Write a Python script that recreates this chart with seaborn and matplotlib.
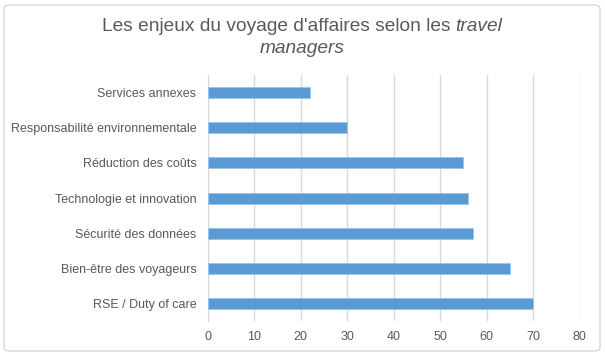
import matplotlib
matplotlib.use('Agg')
import matplotlib.pyplot as plt
from matplotlib.patches import FancyBboxPatch
import seaborn as sns
import pandas as pd

# data
categories = ['Services annexes', 'Responsabilité environnementale', 'Réduction des coûts',
              'Technologie et innovation', 'Sécurité des données', 'Bien-être des voyageurs',
              'RSE / Duty of care']
scores = [22, 30, 55, 56, 57, 65, 70]
x_ticks = [0, 10, 20, 30, 40, 50, 60, 70, 80]

df = pd.DataFrame({'enjeu': categories, 'score': scores})

sns.set_style('white')
plt.rcParams['font.family'] = ['Liberation Sans', 'DejaVu Sans']
text_grey = '#595959'

fig = plt.figure(figsize=(6.05, 3.55), dpi=100)
ax = fig.add_axes([0.343, 0.095, 0.615, 0.694])

sns.barplot(data=df, x='score', y='enjeu', orient='h', color='#5B9BD5',
            width=0.31, saturation=1, edgecolor='#9DC3E6', linewidth=0.6, ax=ax, zorder=3)

ax.set_xlim(0, 80)
ax.set_xticks(x_ticks)
ax.set_xlabel('')
ax.set_ylabel('')
ax.grid(axis='x', color='#D9D9D9', linewidth=1, zorder=0)
for s in ['top', 'right', 'bottom']:
    ax.spines[s].set_visible(False)
ax.spines['left'].set_color('#D9D9D9')
ax.tick_params(axis='x', length=0, pad=7, labelsize=9, labelcolor=text_grey)
ax.tick_params(axis='y', length=0, pad=8, labelsize=9, labelcolor=text_grey)

# title with italic ending, centred over the figure
t1 = fig.text(0, 1 - 31 / 355, "Les enjeux du voyage d'affaires selon les ", fontsize=13.8,
              color=text_grey, ha='left', va='baseline')
t2 = fig.text(0, 1 - 31 / 355, 'travel', fontsize=13.8, style='italic',
              color=text_grey, ha='left', va='baseline')
fig.text(302 / 605, 1 - 53 / 355, 'managers', fontsize=13.8, style='italic',
         color=text_grey, ha='center', va='baseline')
fig.canvas.draw()
r = fig.canvas.get_renderer()
w1 = t1.get_window_extent(r).width
w2 = t2.get_window_extent(r).width
x0 = 302 - (w1 + w2) / 2
t1.set_x(x0 / 605)
t2.set_x((x0 + w1) / 605)

# light frame around the chart
frame = FancyBboxPatch((4 / 605, 4 / 355), 596 / 605, 346 / 355,
                       boxstyle='round,pad=0,rounding_size=0.01', transform=fig.transFigure,
                       facecolor='none', edgecolor='#D9D9D9', linewidth=1)
fig.patches.append(frame)

fig.savefig('out.png', dpi=100)
